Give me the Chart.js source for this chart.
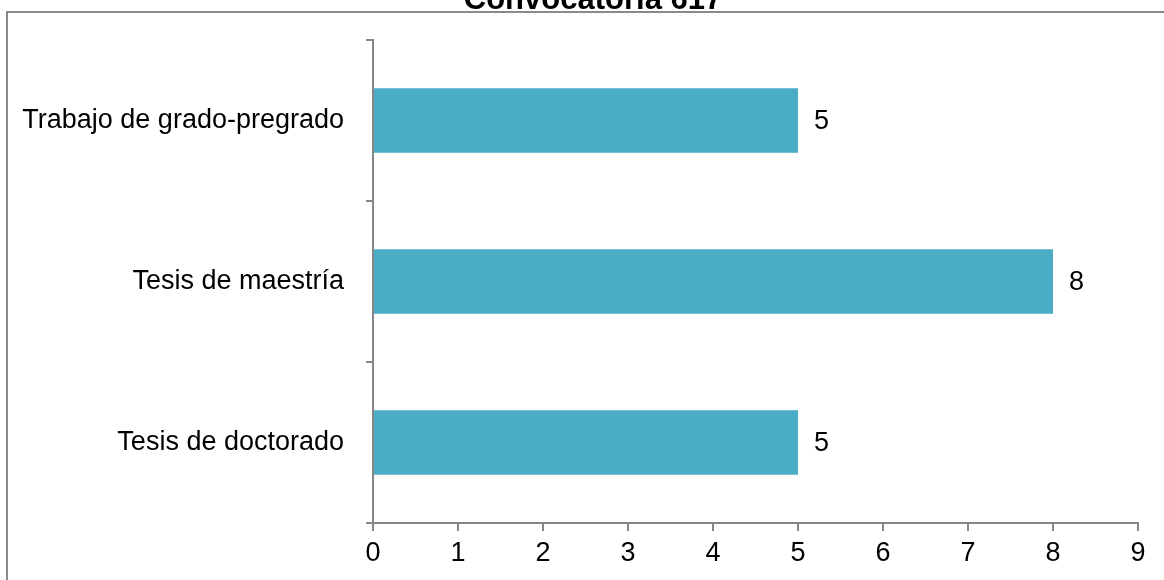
<!DOCTYPE html>
<html>
<head>
<meta charset="utf-8">
<script src="https://cdn.jsdelivr.net/npm/chart.js@4"></script>
<style>
  html, body { margin: 0; padding: 0; background: #fff; overflow: hidden; }
  #frame { position: absolute; left: 6px; top: 11px; width: 1200px; height: 600px;
           border-top: 2px solid #8a8a8a; border-left: 2px solid #8a8a8a; }
  #wrap { position: absolute; left: 0; top: 0; width: 1164px; height: 580px; }
</style>
</head>
<body>
<div id="frame"></div>
<div id="wrap"><canvas id="chart"></canvas></div>
<script>
// ===== Convocatoria chart =====
const titleText = 'Convocatoria 617';
const categories = ['Trabajo de grado-pregrado', 'Tesis de maestría', 'Tesis de doctorado'];
const values = [5, 8, 5];
const xTicks = [0, 1, 2, 3, 4, 5, 6, 7, 8, 9];

const axisGray = '#868686';
const fontFamily = '"Liberation Sans", Arial, sans-serif';

// value labels at the end of each bar
const barValueLabels = {
  id: 'barValueLabels',
  afterDatasetsDraw(chart) {
    const ctx = chart.ctx;
    const meta = chart.getDatasetMeta(0);
    ctx.save();
    ctx.font = '27px ' + fontFamily;
    ctx.fillStyle = '#000';
    ctx.textAlign = 'left';
    ctx.textBaseline = 'middle';
    meta.data.forEach((bar, i) => {
      ctx.fillText(String(values[i]), bar.x + 16, bar.y + 1);
    });
    ctx.restore();
  }
};

// title sits mostly above the visible page, like the cropped original
const cutTitle = {
  id: 'cutTitle',
  afterDraw(chart) {
    const ctx = chart.ctx;
    ctx.save();
    ctx.font = 'bold 31px ' + fontFamily;
    ctx.fillStyle = '#000';
    ctx.textAlign = 'center';
    ctx.textBaseline = 'alphabetic';
    ctx.fillText(titleText, 593, 9);
    ctx.restore();
  }
};

new Chart(document.getElementById('chart'), {
  type: 'bar',
  data: {
    labels: categories,
    datasets: [{
      label: titleText,
      data: values,
      backgroundColor: '#4BACC6',
      categoryPercentage: 1,
      barPercentage: 0.4
    }]
  },
  options: {
    indexAxis: 'y',
    responsive: true,
    maintainAspectRatio: false,
    animation: false,
    layout: { padding: { left: 0, right: 26, top: 40, bottom: 0 } },
    plugins: {
      legend: { display: false },
      tooltip: { enabled: false },
      title: { display: false }
    },
    scales: {
      x: {
        min: 0, max: 9,
        afterBuildTicks: (scale) => { scale.ticks = xTicks.map(v => ({ value: v })); },
        afterFit: (scale) => { scale.height = 57; },
        grid: { drawOnChartArea: false, drawTicks: true, tickLength: 8, color: axisGray, lineWidth: 2 },
        border: { color: axisGray, width: 2 },
        ticks: { color: '#000', padding: 6, font: { size: 27, family: fontFamily } }
      },
      y: {
        afterFit: (scale) => { scale.width = 373; },
        grid: { offset: true, drawOnChartArea: false, drawTicks: true, tickLength: 7, color: axisGray, lineWidth: 2 },
        border: { color: axisGray, width: 2 },
        ticks: { color: '#000', padding: 22, font: { size: 27, family: fontFamily } }
      }
    }
  },
  plugins: [barValueLabels, cutTitle]
});
</script>
</body>
</html>
